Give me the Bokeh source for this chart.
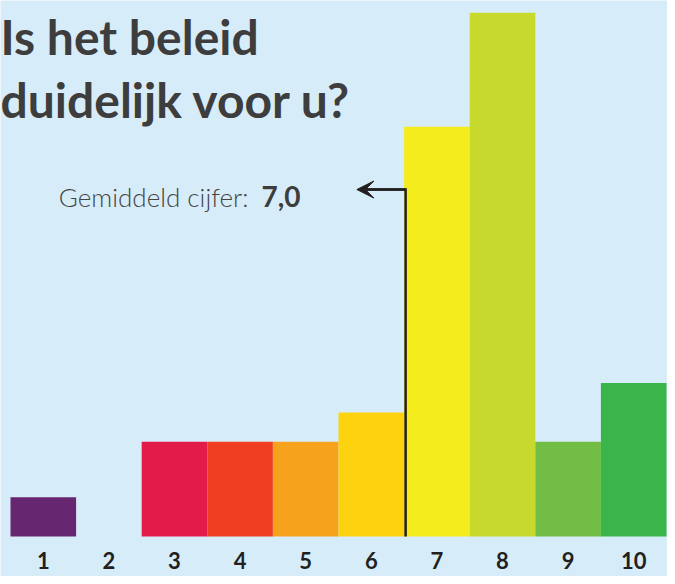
from bokeh.plotting import figure
from bokeh.models import Range1d, Label, Arrow, VeeHead, ColumnDataSource
from bokeh.core.properties import value
from bokeh.embed import file_html
from bokeh.resources import INLINE

# ---- data ----
scores = [1, 2, 3, 4, 5, 6, 7, 8, 9, 10]
score_labels = ["1", "2", "3", "4", "5", "6", "7", "8", "9", "10"]
percentages = [2.4, 0.0, 5.8, 5.8, 5.8, 7.6, 25.1, 32.1, 5.8, 9.4]
bar_colors = ["#662670", "#e31b4a", "#e31b4a", "#f03e23", "#f7a21c",
              "#fdd20f", "#f5ec1e", "#c8d92e", "#72be44", "#3ab54a"]
title_lines = ["Is het beleid", "duidelijk voor u?"]
mean_label = "Gemiddeld cijfer:"

mean = sum(s * v for s, v in zip(scores, percentages)) / sum(percentages)
mean_text = f"{mean:.1f}".replace(".", ",")

BG = "#d7ecf9"
W, H = 667, 576

p = figure(width=W, height=H, output_backend="svg", toolbar_location=None,
           x_axis_location=None, y_axis_location=None,
           x_range=Range1d(0.3476, 10.5153), y_range=Range1d(-2.451, 32.843),
           min_border=0, min_border_left=0, min_border_right=0,
           min_border_top=0, min_border_bottom=0)
p.background_fill_color = BG
p.border_fill_color = BG
p.outline_line_color = None
p.xgrid.visible = False
p.ygrid.visible = False

src = ColumnDataSource(dict(x=scores, top=percentages, color=bar_colors, lab=score_labels))
p.vbar(x="x", top="top", bottom=0, width=1.0, fill_color="color", line_color=None, source=src)

# tick labels under bars
p.text(x="x", y=0, text="lab", source=src, y_offset=24, text_align="center",
       text_baseline="middle", text_font=value("Lato"), text_font_style="bold",
       text_font_size="22px", text_color="#231f20")

# annotation line with arrow
ax = 6.523
ay = 21.26
p.line(x=[5.92, ax, ax], y=[ay, ay, 0], line_color="#231f20", line_width=2.5,
       line_join="miter")
p.add_layout(Arrow(end=VeeHead(size=17, fill_color="#231f20", line_color="#231f20", line_width=1),
                   x_start=ax, y_start=ay, x_end=5.78, y_end=ay,
                   line_color="#231f20", line_width=2.5))

# title
for i, t in enumerate(title_lines):
    p.add_layout(Label(x=0, y=H - 36 - 63 * i, x_units="screen", y_units="screen", text=t,
                       text_font="Lato", text_font_style="bold",
                       text_font_size="48px", text_color="#3d3d3d",
                       text_baseline="alphabetic", text_align="left"))

# mean label
p.add_layout(Label(x=248, y=H - 196, x_units="screen", y_units="screen", text=mean_label,
                   text_font="Lato Light", text_font_size="26px",
                   text_color="#444444", text_baseline="alphabetic", text_align="right"))
p.add_layout(Label(x=261, y=H - 196, x_units="screen", y_units="screen", text=mean_text,
                   text_font="Lato", text_font_style="bold", text_font_size="28px",
                   text_color="#3d3d3d", text_baseline="alphabetic", text_align="left"))

open("out.html", "w").write(file_html(p, INLINE))
